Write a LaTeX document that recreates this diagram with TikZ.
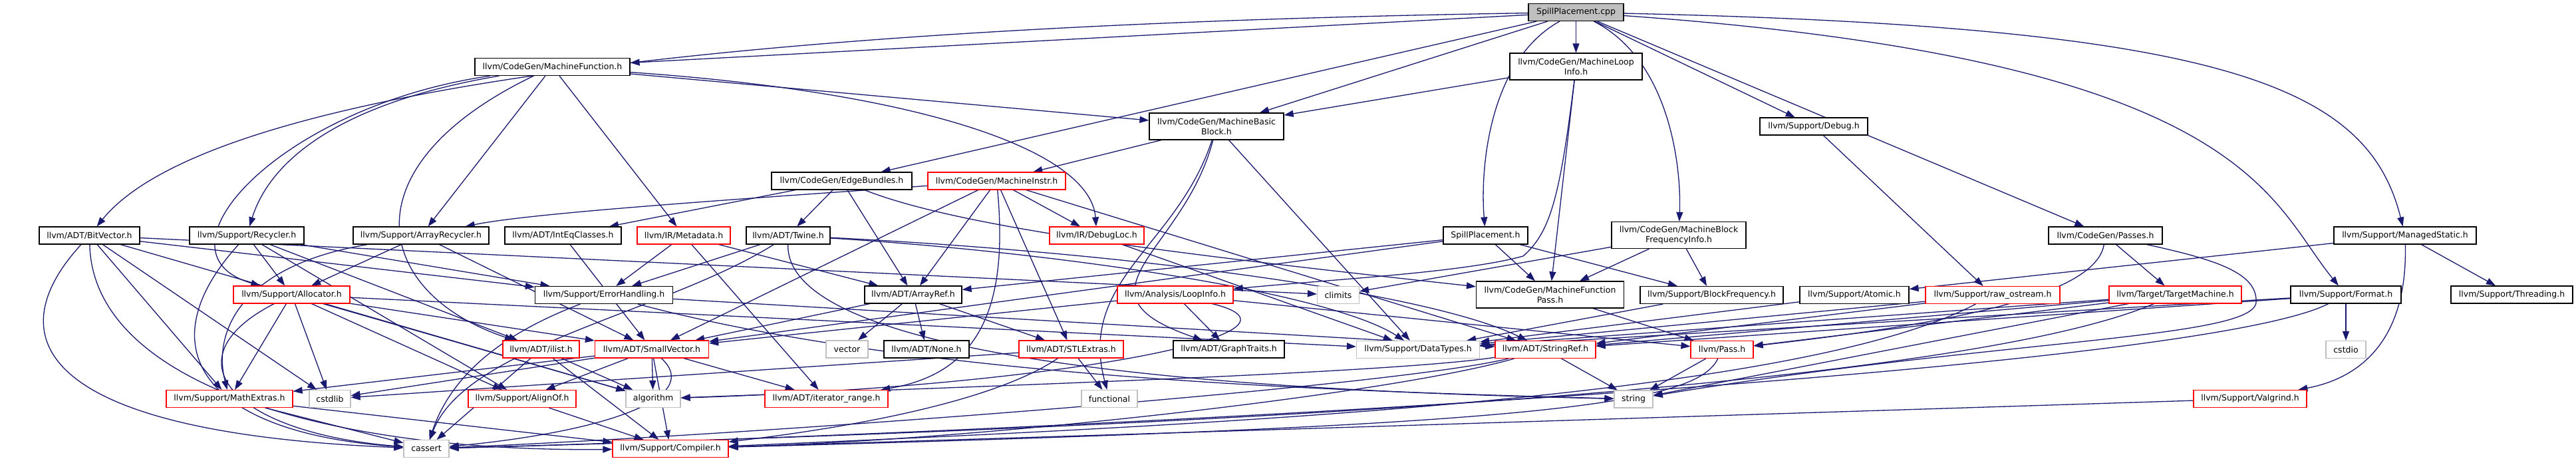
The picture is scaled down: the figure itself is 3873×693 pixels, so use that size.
\documentclass[tikz,border=0pt]{standalone}
\usepackage{fontspec}
\newfontfamily\dvs{DejaVu Sans}
\usetikzlibrary{arrows.meta}
\pgfdeclarelayer{bg}
\pgfsetlayers{bg,main}
\definecolor{edgeblue}{HTML}{191970}
\definecolor{boxred}{HTML}{FF0000}
\definecolor{boxgray}{HTML}{BFBFBF}
\definecolor{rootgray}{HTML}{BFBFBF}
\tikzset{
  basebox/.style={draw, fill=white, font=\dvs\fontsize{12.5pt}{15pt}\selectfont, inner sep=0pt, minimum height=26pt, line width=1.2pt, align=center},
  kbox/.style={basebox, draw=black},
  rbox/.style={basebox, draw=boxred},
  gbox/.style={basebox, draw=boxgray},
  rootbox/.style={basebox, draw=black, fill=rootgray},
  two/.style={minimum height=40pt},
  lnk/.style={draw=edgeblue, line width=1.3pt, -{Triangle[length=14pt,width=10pt]}},
}
\begin{document}
\begin{tikzpicture}[x=1pt,y=-1pt]
\useasboundingbox (0,0) rectangle (3873,693);
% rank 0-3
\node[rootbox, minimum width=143pt] (cpp) at (2369.5,18.5) {SpillPlacement.cpp};
\node[kbox, minimum width=233pt] (mf) at (830.5,100.5) {llvm/CodeGen/MachineFunction.h};
\node[kbox, two, minimum width=199pt] (mli) at (2369.5,100) {llvm/CodeGen/MachineLoop\\Info.h};
\node[kbox, two, minimum width=202pt] (mbb) at (1829,190) {llvm/CodeGen/MachineBasic\\Block.h};
\node[kbox, minimum width=162pt] (debug) at (2727,190) {llvm/Support/Debug.h};
\node[kbox, minimum width=211pt] (eb) at (1265.5,272) {llvm/CodeGen/EdgeBundles.h};
\node[rbox, minimum width=207pt] (mi) at (1498.5,272) {llvm/CodeGen/MachineInstr.h};
% rank 4
\node[kbox, minimum width=151pt] (bitvector) at (134.5,354) {llvm/ADT/BitVector.h};
\node[kbox, minimum width=172pt] (recycler) at (371,354) {llvm/Support/Recycler.h};
\node[kbox, minimum width=204pt] (arrayrec) at (633,354) {llvm/Support/ArrayRecycler.h};
\node[kbox, minimum width=175pt] (inteq) at (846.5,354) {llvm/ADT/IntEqClasses.h};
\node[rbox, minimum width=140pt] (metadata) at (1028,354) {llvm/IR/Metadata.h};
\node[kbox, minimum width=126pt] (twine) at (1185,354) {llvm/ADT/Twine.h};
\node[rbox, minimum width=142pt] (debugloc) at (1649,354) {llvm/IR/DebugLoc.h};
\node[kbox, minimum width=127pt] (sph) at (2233.5,354) {SpillPlacement.h};
\node[kbox, two, minimum width=202pt] (mbfi) at (2524,353.5) {llvm/CodeGen/MachineBlock\\FrequencyInfo.h};
\node[kbox, minimum width=171pt] (passes) at (3165.5,354) {llvm/CodeGen/Passes.h};
\node[kbox, minimum width=214pt] (managed) at (3616,354) {llvm/Support/ManagedStatic.h};
% rank 5
\node[rbox, minimum width=175pt] (allocator) at (438.5,443) {llvm/Support/Allocator.h};
\node[kbox, minimum width=207pt] (errorhandling) at (908,443.5) {llvm/Support/ErrorHandling.h};
\node[kbox, minimum width=146pt] (arrayref) at (1373,443) {llvm/ADT/ArrayRef.h};
\node[rbox, minimum width=174pt] (loopinfo) at (1767,443) {llvm/Analysis/LoopInfo.h};
\node[gbox, minimum width=63pt] (climits) at (2012,443.5) {climits};
\node[kbox, two, minimum width=222pt] (mfpass) at (2330.5,443) {llvm/CodeGen/MachineFunction\\Pass.h};
\node[kbox, minimum width=215pt] (blockfreq) at (2573.5,443.5) {llvm/Support/BlockFrequency.h};
\node[kbox, minimum width=164pt] (atomic) at (2788,443.5) {llvm/Support/Atomic.h};
\node[rbox, minimum width=202pt] (rawostream) at (2996,443.5) {llvm/Support/raw\_ostream.h};
\node[rbox, minimum width=199pt] (tm) at (3270.5,443) {llvm/Target/TargetMachine.h};
\node[kbox, minimum width=166pt] (format) at (3527,443) {llvm/Support/Format.h};
\node[kbox, minimum width=183pt] (threading) at (3776.5,443) {llvm/Support/Threading.h};
% rank 6
\node[rbox, minimum width=115pt] (ilist) at (813.5,525) {llvm/ADT/ilist.h};
\node[rbox, minimum width=171pt] (smallvector) at (980,525) {llvm/ADT/SmallVector.h};
\node[gbox, minimum width=63pt] (vector) at (1273.5,525) {vector};
\node[kbox, minimum width=128pt] (none) at (1393,525) {llvm/ADT/None.h};
\node[rbox, minimum width=157pt] (stlextras) at (1610.5,525) {llvm/ADT/STLExtras.h};
\node[kbox, minimum width=167pt] (graphtraits) at (1847.5,525) {llvm/ADT/GraphTraits.h};
\node[gbox, minimum width=185pt] (datatypes) at (2132,525.5) {llvm/Support/DataTypes.h};
\node[rbox, minimum width=151pt] (stringref) at (2323.5,525.5) {llvm/ADT/StringRef.h};
\node[rbox, minimum width=94pt] (pass) at (2589,525.5) {llvm/Pass.h};
\node[gbox, minimum width=60pt] (cstdio) at (3527,525.5) {cstdio};
% rank 7
\node[rbox, minimum width=190pt] (mathextras) at (345,599.5) {llvm/Support/MathExtras.h};
\node[gbox, minimum width=62pt] (cstdlib) at (496,599.5) {cstdlib};
\node[rbox, minimum width=162pt] (alignof) at (785,599.5) {llvm/Support/AlignOf.h};
\node[gbox, minimum width=82pt] (algorithm) at (982,599.5) {algorithm};
\node[rbox, minimum width=185pt] (iterrange) at (1242.5,599.5) {llvm/ADT/iterator\_range.h};
\node[gbox, minimum width=84pt] (functional) at (1668,599.5) {functional};
\node[gbox, minimum width=58pt] (string) at (2456,600) {string};
\node[rbox, minimum width=170pt] (valgrind) at (3383,599.5) {llvm/Support/Valgrind.h};
% rank 8
\node[gbox, minimum width=68pt] (cassert) at (641,674.5) {cassert};
\node[rbox, minimum width=174pt] (compiler) at (1008,674.5) {llvm/Support/Compiler.h};

\begin{pgfonlayer}{bg}
\fill[white] (0,0) rectangle (3873,693);
% SpillPlacement.cpp
\draw[lnk] (cpp) .. controls (1000,40) and (300,150) .. (bitvector);
\draw[lnk] (cpp) -- (mf);
\draw[lnk] (cpp) -- (eb);
\draw[lnk] (cpp) -- (mbb);
\draw[lnk] (cpp) .. controls (2240,90) and (2225,250) .. (sph);
\draw[lnk] (cpp) -- (mli);
\draw[lnk] (cpp) .. controls (2510,90) and (2528,250) .. (mbfi);
\draw[lnk] (cpp) -- (debug);
\draw[lnk] (cpp) -- (passes);
\draw[lnk] (cpp) .. controls (3350,40) and (3560,130) .. (managed);
\draw[lnk] (cpp) .. controls (3380,90) and (3410,300) .. (format);
% MachineFunction.h
\draw[lnk] (mf) -- (mbb);
\draw[lnk] (mf) .. controls (1400,140) and (1640,230) .. (debugloc);
\draw[lnk] (mf) .. controls (420,160) and (220,380) .. (allocator);
\draw[lnk] (mf) .. controls (480,160) and (400,260) .. (recycler);
\draw[lnk] (mf) .. controls (520,250) and (560,440) .. (ilist);
\draw[lnk] (mf) -- (arrayrec);
\draw[lnk] (mf) -- (metadata);
% MachineLoopInfo.h
\draw[lnk] (mli) -- (mbb);
\draw[lnk] (mli) -- (mfpass);
\draw[lnk] (mli) .. controls (2345,300) and (2330,350) .. (2290,385) .. controls (2200,410) and (2000,420) .. (loopinfo);
% MachineBasicBlock.h
\draw[lnk] (mbb) -- (mi);
\draw[lnk] (mbb) .. controls (1780,380) and (1600,440) .. (graphtraits);
\draw[lnk] (mbb) .. controls (1770,370) and (1620,420) .. (functional);
\draw[lnk] (mbb) -- (datatypes);
% EdgeBundles.h
\draw[lnk] (eb) -- (inteq);
\draw[lnk] (eb) -- (twine);
\draw[lnk] (eb) -- (arrayref);
\draw[lnk] (eb) .. controls (1450,345) and (1800,385) .. (mfpass);
% MachineInstr.h
\draw[lnk] (mi) .. controls (1100,300) and (800,320) .. (arrayrec);
\draw[lnk] (mi) -- (smallvector);
\draw[lnk] (mi) -- (arrayref);
\draw[lnk] (mi) .. controls (1515,450) and (1480,560) .. (iterrange);
\draw[lnk] (mi) -- (stlextras);
\draw[lnk] (mi) -- (debugloc);
\draw[lnk] (mi) -- (stringref);
% SpillPlacement.h
\draw[lnk] (sph) -- (arrayref);
\draw[lnk] (sph) -- (smallvector);
\draw[lnk] (sph) -- (mfpass);
\draw[lnk] (sph) -- (blockfreq);
% MachineBlockFrequencyInfo.h
\draw[lnk] (mbfi) -- (mfpass);
\draw[lnk] (mbfi) -- (blockfreq);
\draw[lnk] (mbfi) -- (climits);
% LoopInfo.h
\draw[lnk] (loopinfo) -- (smallvector);
\draw[lnk] (loopinfo) -- (graphtraits);
\draw[lnk] (loopinfo) .. controls (2000,500) and (1600,580) .. (algorithm);
\draw[lnk] (loopinfo) -- (pass);
% ArrayRef.h
\draw[lnk] (arrayref) -- (smallvector);
\draw[lnk] (arrayref) -- (vector);
\draw[lnk] (arrayref) -- (none);
\draw[lnk] (arrayref) -- (stlextras);
% IntEqClasses.h
\draw[lnk] (inteq) -- (smallvector);
% ArrayRecycler.h
\draw[lnk] (arrayrec) -- (allocator);
\draw[lnk] (arrayrec) .. controls (360,400) and (320,500) .. (mathextras);
\draw[lnk] (arrayrec) -- (smallvector);
% Allocator.h
\draw[lnk] (allocator) -- (smallvector);
\draw[lnk] (allocator) -- (alignof);
\draw[lnk] (allocator) -- (datatypes);
\draw[lnk] (allocator) -- (mathextras);
\draw[lnk] (allocator) -- (algorithm);
\draw[lnk] (allocator) .. controls (250,540) and (350,650) .. (cassert);
\draw[lnk] (allocator) -- (cstdlib);
% Recycler.h
\draw[lnk] (recycler) .. controls (220,520) and (300,650) .. (cassert);
\draw[lnk] (recycler) -- (allocator);
\draw[lnk] (recycler) -- (alignof);
\draw[lnk] (recycler) -- (ilist);
\draw[lnk] (recycler) -- (errorhandling);
% BitVector.h
\draw[lnk] (bitvector) .. controls (0,500) and (40,650) .. (cassert);
\draw[lnk] (bitvector) .. controls (140,580) and (500,680) .. (compiler);
\draw[lnk] (bitvector) -- (mathextras);
\draw[lnk] (bitvector) -- (cstdlib);
\draw[lnk] (bitvector) -- (algorithm);
\draw[lnk] (bitvector) -- (errorhandling);
\draw[lnk] (bitvector) -- (climits);
% ErrorHandling.h
\draw[lnk] (errorhandling) .. controls (760,500) and (680,560) .. (cassert);
\draw[lnk] (errorhandling) .. controls (1400,575) and (2100,590) .. (string);
\draw[lnk] (errorhandling) -- (stringref);
% Twine.h
\draw[lnk] (twine) -- (errorhandling);
\draw[lnk] (twine) .. controls (1000,470) and (700,520) .. (cassert);
\draw[lnk] (twine) .. controls (1180,560) and (2000,590) .. (string);
\draw[lnk] (twine) .. controls (1700,380) and (2150,440) .. (stringref);
\draw[lnk] (twine) .. controls (1600,380) and (2000,440) .. (datatypes);
% Metadata.h
\draw[lnk] (metadata) -- (errorhandling);
\draw[lnk] (metadata) -- (iterrange);
\draw[lnk] (metadata) -- (arrayref);
% DebugLoc.h
\draw[lnk] (debugloc) -- (datatypes);
% ilist.h
\draw[lnk] (ilist) -- (cassert);
\draw[lnk] (ilist) -- (compiler);
\draw[lnk] (ilist) -- (algorithm);
% SmallVector.h
\draw[lnk] (smallvector) -- (mathextras);
\draw[lnk] (smallvector) -- (cstdlib);
\draw[lnk] (smallvector) -- (alignof);
\draw[lnk] (smallvector) -- (algorithm);
\draw[lnk] (smallvector) .. controls (1060,600) and (900,650) .. (cassert);
\draw[lnk] (smallvector) -- (compiler);
\draw[lnk] (smallvector) -- (iterrange);
% MathExtras.h, AlignOf.h
\draw[lnk] (mathextras) -- (cassert);
\draw[lnk] (mathextras) -- (compiler);
\draw[lnk] (alignof) -- (compiler);
% STLExtras.h
\draw[lnk] (stlextras) .. controls (1500,600) and (1300,640) .. (compiler);
\draw[lnk] (stlextras) -- (functional);
\draw[lnk] (stlextras) -- (cstdlib);
% MachineFunctionPass.h, BlockFrequency.h, Atomic.h, Debug.h
\draw[lnk] (mfpass) -- (pass);
\draw[lnk] (blockfreq) -- (datatypes);
\draw[lnk] (atomic) -- (datatypes);
\draw[lnk] (debug) -- (rawostream);
% raw_ostream.h
\draw[lnk] (rawostream) -- (stringref);
\draw[lnk] (rawostream) -- (datatypes);
\draw[lnk] (rawostream) .. controls (2700,600) and (1800,640) .. (compiler);
% Passes.h
\draw[lnk] (passes) .. controls (3150,450) and (2900,490) .. (pass);
\draw[lnk] (passes) -- (tm);
\draw[lnk] (passes) .. controls (3330,390) and (3395,410) .. (3392,455) .. controls (3385,510) and (3000,510) .. (string);
% TargetMachine.h
\draw[lnk] (tm) -- (stringref);
\draw[lnk] (tm) -- (pass);
\draw[lnk] (tm) -- (datatypes);
\draw[lnk] (tm) -- (string);
\draw[lnk] (tm) .. controls (2900,600) and (1500,650) .. (cassert);
% Format.h
\draw[lnk] (format) -- (stringref);
\draw[lnk] (format) -- (datatypes);
\draw[lnk] (format) .. controls (3300,560) and (1600,650) .. (cassert);
\draw[lnk] (format) -- (cstdio);
% ManagedStatic.h
\draw[lnk] (managed) -- (atomic);
\draw[lnk] (managed) -- (threading);
\draw[lnk] (managed) .. controls (3620,520) and (3540,570) .. (valgrind);
% Valgrind.h
\draw[lnk] (valgrind) -- (compiler);
% Pass.h
\draw[lnk] (pass) -- (string);
\draw[lnk] (pass) .. controls (2550,610) and (2300,640) .. (compiler);
% StringRef.h
\draw[lnk] (stringref) -- (string);
\draw[lnk] (stringref) .. controls (2100,560) and (1500,580) .. (algorithm);
\draw[lnk] (stringref) .. controls (2100,580) and (1200,650) .. (cassert);
\draw[lnk] (stringref) .. controls (2100,590) and (1500,660) .. (compiler);
\end{pgfonlayer}
\end{tikzpicture}
\end{document}
